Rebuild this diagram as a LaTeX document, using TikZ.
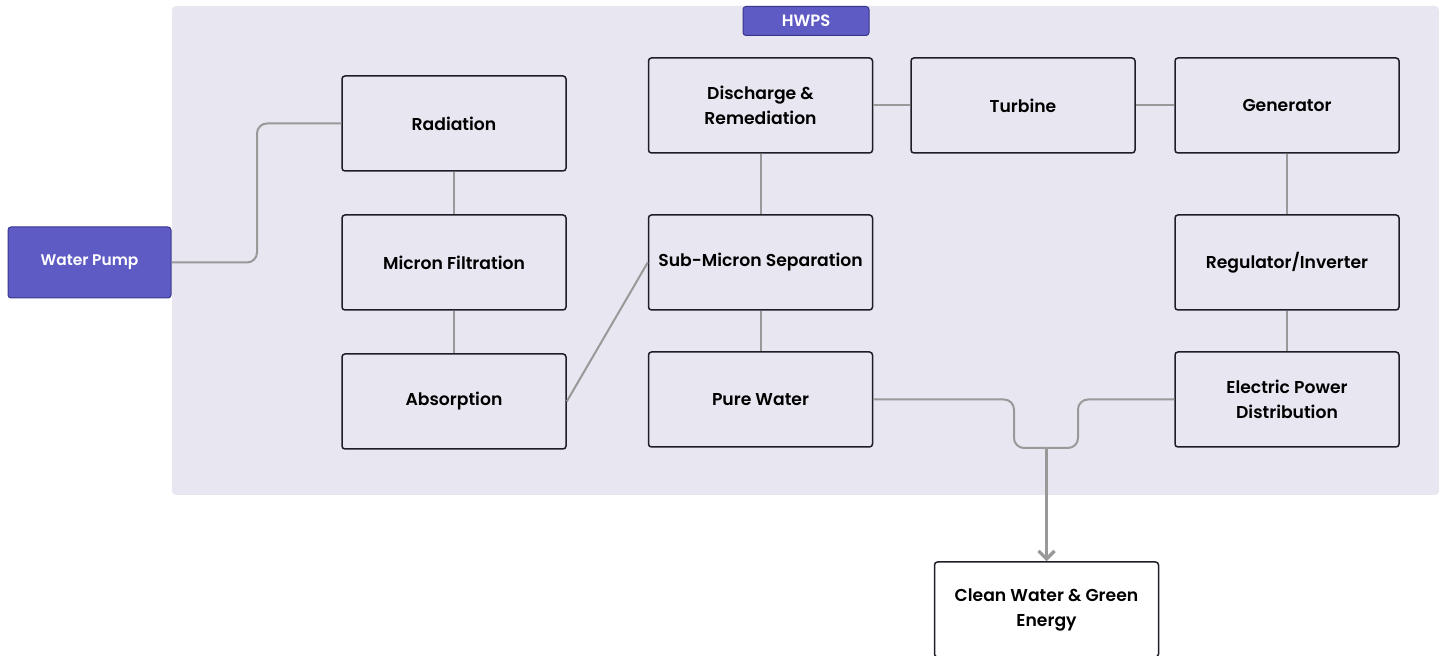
\documentclass[tikz,border=0pt]{standalone}
\usepackage{fontspec}
\setmainfont{Poppins}[BoldFont={Poppins SemiBold}]
\usetikzlibrary{arrows.meta}
\definecolor{panel}{RGB}{232,230,240}
\definecolor{pump}{RGB}{95,91,196}
\definecolor{pumpline}{RGB}{58,54,140}
\definecolor{boxline}{RGB}{30,30,40}
\definecolor{wire}{RGB}{153,153,153}

\begin{document}
\begin{tikzpicture}[x=0.5pt,y=-0.5pt,
	stage/.style={draw=boxline,line width=0.75pt,rounded corners=1.5pt,fill=panel,
		minimum width=112pt,minimum height=47.5pt,inner sep=0pt,align=center,
		font=\bfseries\fontsize{8.6}{12.5}\selectfont},
	tag/.style={draw=pumpline,line width=0.5pt,rounded corners=1.5pt,fill=pump,
		text=white,inner sep=0pt,align=center},
	wire/.style={draw=wire,line width=1pt,rounded corners=5pt},
	flow/.style={draw=wire,line width=1.6pt,-{Straight Barb[length=4pt,width=8pt]}}]
	\useasboundingbox (0,0) rectangle (1442,656);
	
	% HWPS panel
	\fill[panel,rounded corners=2pt] (172,6) rectangle (1439,495);
	\node[tag,minimum width=63pt,minimum height=14.5pt,font=\bfseries\fontsize{8.2}{9}\selectfont](hwps) at (806,21){HWPS};
	
	\node[tag,minimum width=81.5pt,minimum height=35.5pt,font=\bfseries\fontsize{7.7}{9}\selectfont](pump) at (89.5,262.5){Water Pump};
	
	\node[stage](rad) at (454,123.5){Radiation};
	\node[stage](micron) at (454,262.5){Micron Filtration};
	\node[stage](absorb) at (454,401.5){Absorption};
	\node[stage](discharge) at (760.5,105.5){Discharge \&\\Remediation};
	\node[stage](submicron) at (760.5,262.5){Sub-Micron Separation};
	\node[stage](pure) at (760.5,399.5){Pure Water};
	\node[stage](turbine) at (1023,105.5){Turbine};
	\node[stage](gen) at (1287,105.5){Generator};
	\node[stage](reg) at (1287,262.5){Regulator/Inverter};
	\node[stage](power) at (1287,399.5){Electric Power\\Distribution};
	\node[stage,fill=white](clean) at (1046.5,609.5){Clean Water \& Green\\Energy};
	
	\coordinate(bend) at (257,262.5);
	\coordinate(mL) at (1014,448);
	\coordinate(mR) at (1078,448);
	\coordinate(merge) at (1046.5,448);
	
	\draw[wire] (pump.east) -- (bend) |- (rad.west);
	\draw[wire] (rad) -- (micron);
	\draw[wire] (micron) -- (absorb);
	\draw[wire] (absorb.east) -- (submicron.west);
	\draw[wire] (discharge) -- (submicron);
	\draw[wire] (submicron) -- (pure);
	\draw[wire] (discharge) -- (turbine);
	\draw[wire] (turbine) -- (gen);
	\draw[wire] (gen) -- (reg);
	\draw[wire] (reg) -- (power);
	\draw[wire] (pure.east) -| (mL) -- (merge);
	\draw[wire] (power.west) -| (mR) -- (merge);
	\draw[flow] (merge) -- (clean.north);
\end{tikzpicture}
\end{document}
